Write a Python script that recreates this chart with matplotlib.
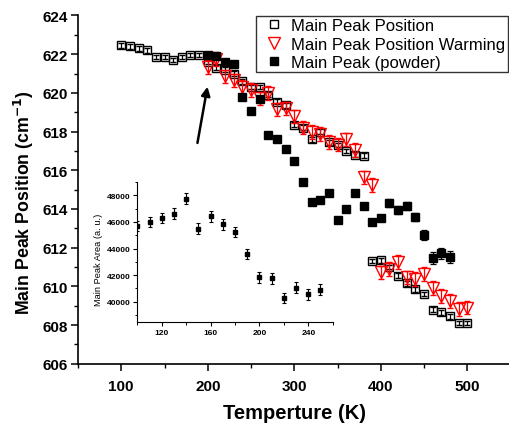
import matplotlib
matplotlib.use('Agg')
import matplotlib.pyplot as plt
from matplotlib.ticker import MultipleLocator

plt.rcParams['font.family'] = ['Liberation Sans', 'DejaVu Sans']

# main peak position (open squares)
t_pos = [100, 110, 120, 130, 140, 150, 160, 170, 180, 190,
         200, 210, 220, 230, 240, 250, 260, 270, 280, 290,
         300, 310, 320, 330, 340, 350, 360, 370, 380, 390,
         400, 410, 420, 430, 440, 450, 460, 470, 480, 490, 500]
pos = [622.45, 622.4, 622.3, 622.2, 621.85, 621.85, 621.7, 621.85, 621.95, 621.95,
       621.6, 621.3, 621.2, 621.0, 620.6, 620.3, 620.3, 619.9, 619.55, 619.35,
       618.35, 618.2, 617.6, 618.0, 617.45, 617.3, 617.0, 616.8, 616.75, 611.3,
       611.35, 611.0, 610.55, 610.15, 609.85, 609.6, 608.8, 608.65, 608.45, 608.1, 608.1]
pos_err = 0.12

# warming (red triangles)
t_warm = [200, 210, 220, 230, 240, 250, 260, 270, 280, 290,
          300, 310, 320, 330, 340, 350, 360, 370, 380, 390,
          400, 410, 420, 430, 440, 450, 460, 470, 480, 490, 500]
warm = [621.35, 621.75, 620.85, 620.65, 620.3, 620.15, 619.72, 620.0, 619.15, 619.2,
        618.78, 618.2, 617.99, 617.87, 617.47, 617.33, 617.6, 617.06, 615.63, 615.24,
        610.72, 610.9, 611.27, 610.46, 610.38, 610.63, 609.92, 609.5, 609.25, 608.83, 608.9]
warm_err = 0.35

# powder (filled squares)
t_pow = [200, 210, 220, 230, 240, 250, 260, 270, 280, 290,
         300, 310, 320, 330, 340, 350, 360, 370, 380, 390,
         400, 410, 420, 430, 440, 450, 460, 470, 480]
powder = [621.95, 621.9, 621.6, 621.5, 619.8, 619.05, 619.7, 617.8, 617.6, 617.1,
          616.5, 615.4, 614.35, 614.45, 614.8, 613.45, 614.0, 614.8, 614.15, 613.3,
          613.55, 614.3, 613.95, 614.15, 613.6, 612.65, 611.45, 611.7, 611.5]
powder_err = [0.05, 0.05, 0.05, 0.05, 0.05, 0.05, 0.05, 0.05, 0.05, 0.05,
              0.05, 0.08, 0.08, 0.08, 0.1, 0.1, 0.12, 0.15, 0.15, 0.15,
              0.15, 0.2, 0.2, 0.2, 0.2, 0.25, 0.3, 0.3, 0.3]

# inset: main peak area
t_area = [100, 110, 120, 130, 140, 150, 160, 170, 180, 190, 200, 210, 220, 230, 240, 250]
area = [45700, 46000, 46300, 46625, 47750, 45500, 46425, 45825, 45250, 43575,
        41825, 41750, 40275, 41050, 40550, 40900]
area_err = 400

fig = plt.figure(figsize=(5.09, 4.27), dpi=100)
ax = fig.add_axes([0.1532, 0.1459, 0.85, 0.8155])

e1 = ax.errorbar(t_pos, pos, yerr=pos_err, fmt='s', ms=5.5, mfc='none', mec='k', mew=1.0,
                 ecolor='k', elinewidth=0.9, capsize=2.5, capthick=0.9,
                 label='Main Peak Position', zorder=2)
e2 = ax.errorbar(t_warm, warm, yerr=warm_err, fmt='v', ms=8, mfc='none', mec='red', mew=1.0,
                 ecolor='red', elinewidth=0.9, capsize=2.5, capthick=0.9,
                 label='Main Peak Position Warming', zorder=3)
e3 = ax.errorbar(t_pow, powder, yerr=powder_err, fmt='s', ms=6, mfc='k', mec='k',
                 ecolor='k', elinewidth=0.9, capsize=2.5, capthick=0.9,
                 label='Main Peak (powder)', zorder=4)

ax.annotate('', xy=(200.2, 620.46), xytext=(187.5, 617.27),
            arrowprops=dict(arrowstyle='-|>', color='k', lw=1.8, mutation_scale=13))

ax.set_xlim(50, 550)
ax.set_ylim(606, 624)
ax.xaxis.set_major_locator(MultipleLocator(100))
ax.xaxis.set_minor_locator(MultipleLocator(50))
ax.yaxis.set_major_locator(MultipleLocator(2))
ax.yaxis.set_minor_locator(MultipleLocator(1))
for s in ['top', 'right']:
    ax.spines[s].set_visible(False)
for s in ['left', 'bottom']:
    ax.spines[s].set_linewidth(1.2)
ax.tick_params(which='major', direction='out', length=5, width=1.1, labelsize=11, pad=2.5)
ax.tick_params(which='minor', direction='out', length=3, width=1.0)
ax.tick_params(axis='x', which='major', pad=6)
for lab in ax.get_xticklabels() + ax.get_yticklabels():
    lab.set_fontweight('bold')

ax.set_xlabel('Temperture (K)', fontsize=14.5, fontweight='bold')
ax.set_ylabel('Main Peak Position (cm$^{\\mathbf{-1}}$)', fontsize=12.8, fontweight='bold')
ax.xaxis.set_label_coords(0.5, -0.113)
ax.yaxis.set_label_coords(-0.096, 0.467)

leg = ax.legend(handles=[e1[0], e2[0], e3[0]],
                labels=['Main Peak Position', 'Main Peak Position Warming', 'Main Peak (powder)'],
                loc='upper right', bbox_to_anchor=(0.994, 0.9994), fontsize=12,
                frameon=True, fancybox=False, borderpad=0.15, labelspacing=0.2,
                handlelength=1.86, handletextpad=0.13, borderaxespad=0, numpoints=1)
leg.get_frame().set_edgecolor('k')
leg.get_frame().set_linewidth(1.0)

# inset
ins = fig.add_axes([0.2701, 0.2443, 0.3835, 0.3272])
ins.errorbar(t_area, area, yerr=area_err, fmt='s', ms=2.8, mfc='k', mec='k',
             ecolor='k', elinewidth=0.8, capsize=1.6, capthick=0.8)
ins.set_xlim(100, 260)
ins.set_ylim(38500, 49000)
ins.xaxis.set_major_locator(MultipleLocator(40))
ins.xaxis.set_minor_locator(MultipleLocator(20))
ins.yaxis.set_major_locator(MultipleLocator(2000))
ins.yaxis.set_minor_locator(MultipleLocator(1000))
for s in ['top', 'right']:
    ins.spines[s].set_visible(False)
ins.tick_params(which='major', direction='out', length=3, width=0.8, labelsize=6, pad=2)
ins.tick_params(which='minor', direction='out', length=1.8, width=0.7)
for lab in ins.get_xticklabels() + ins.get_yticklabels():
    lab.set_fontweight('bold')
ins.set_ylabel('Main Peak Area (a. u.)', fontsize=6.7)
ins.yaxis.set_label_coords(-0.177, 0.45)
ins.patch.set_alpha(0)

fig.savefig('out.png', dpi=100)
